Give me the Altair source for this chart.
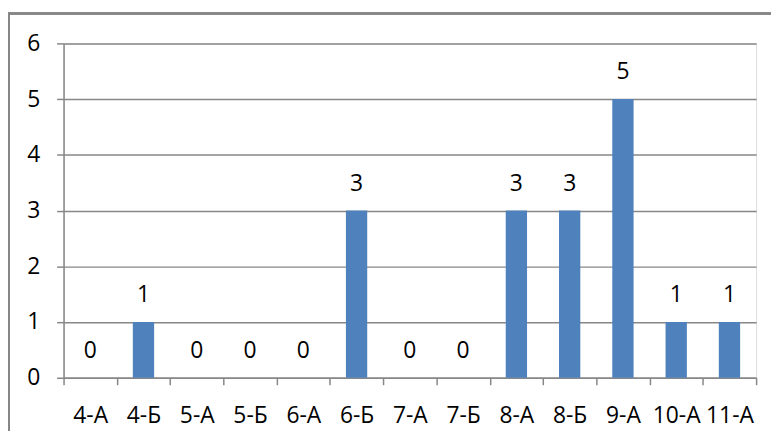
import altair as alt
import pandas as pd

classes = ["4-А", "4-Б", "5-А", "5-Б", "6-А", "6-Б", "7-А", "7-Б", "8-А", "8-Б", "9-А", "10-А", "11-А"]
values = [0, 1, 0, 0, 0, 3, 0, 0, 3, 3, 5, 1, 1]
y_ticks = [0, 1, 2, 3, 4, 5, 6]

df = pd.DataFrame({"cls": classes, "val": values})

W, H = 698, 337
FONT = "Open Sans"
FS = 23

x = alt.X("cls:N", sort=classes, title=None,
          scale=alt.Scale(paddingInner=0, paddingOuter=0),
          axis=alt.Axis(labelAngle=0, tickBand="extent", tickSize=7, labelPadding=20,
                        labelFontSize=FS, labelFont=FONT, labelColor="#000000",
                        domainColor="#878787", tickColor="#878787", domainWidth=1.5, tickWidth=1.5,
                        grid=False))
y = alt.Y("val:Q", title=None,
          scale=alt.Scale(domain=[0, 6], nice=False),
          axis=alt.Axis(values=y_ticks, format="d", tickSize=7, labelPadding=17,
                        labelFontSize=FS, labelFont=FONT, labelColor="#000000",
                        domainColor="#878787", tickColor="#878787", domainWidth=1.5, tickWidth=1.5,
                        gridColor="#878787", gridWidth=1.5))

border = alt.Chart(df).mark_rect(fill=None, stroke="#878787", strokeWidth=1.5).encode(
    x=alt.value(-55), x2=alt.value(W + 200), y=alt.value(-30), y2=alt.value(H + 200)
)

bars = alt.Chart(df).mark_bar(color="#4F81BD", width={"band": 0.4}).encode(x=x, y=y)
labels = alt.Chart(df).mark_text(baseline="alphabetic", dy=-20, fontSize=FS, font=FONT, color="#000000").encode(
    x=alt.X("cls:N", sort=classes), y=alt.Y("val:Q"), text="val:Q"
)

chart = alt.layer(border, bars, labels).properties(
    width=W, height=H,
    autosize=alt.AutoSizeParams(type="none"),
    padding={"left": 56, "top": 34, "right": 15, "bottom": 52},
).configure_view(stroke=None).configure(background="white")

chart.save("out.html", embed_options={"renderer": "svg", "actions": False})
